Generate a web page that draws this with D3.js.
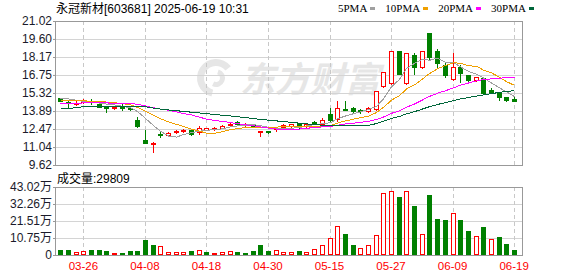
<!DOCTYPE html>
<html><head><meta charset="utf-8">
<script src="https://cdn.jsdelivr.net/npm/d3@7"></script>
<style>
html,body{margin:0;padding:0;background:#fff;}
svg{display:block;}
text{font-family:"Liberation Sans",Arial,"Noto Sans CJK SC",sans-serif;}
</style></head><body>
<svg id="c" width="578" height="276"></svg>
<script>
const title = "永冠新材[603681] 2025-06-19 10:31";
const dates = ["03-21","03-24","03-25","03-26","03-27","03-28","03-31","04-01","04-02","04-03",
"04-07","04-08","04-09","04-10","04-11","04-14","04-15","04-16","04-17","04-18",
"04-21","04-22","04-23","04-24","04-25","04-28","04-29","04-30","05-06","05-07",
"05-08","05-09","05-12","05-13","05-14","05-15","05-16","05-19","05-20","05-21",
"05-22","05-23","05-26","05-27","05-28","05-29","05-30","06-03","06-04","06-05",
"06-06","06-09","06-10","06-11","06-12","06-13","06-16","06-17","06-18","06-19"];
const opens = [14.89,14.62,14.47,14.62,14.68,14.45,14.20,14.10,14.20,14.15,
13.15,11.62,11.32,12.04,11.99,12.20,12.28,12.36,12.20,12.41,
12.44,12.54,12.83,13.04,12.76,12.80,12.20,12.30,12.44,12.65,
12.70,12.91,12.67,13.02,12.86,13.65,13.28,14.07,14.12,13.97,
13.86,14.02,15.91,16.10,18.63,16.10,18.34,17.36,20.05,18.65,
17.55,16.41,17.39,16.73,16.31,16.49,15.52,15.36,14.99,14.83];
const highs = [14.95,14.65,14.68,14.86,14.81,14.68,14.26,14.28,14.41,14.28,
13.40,12.36,11.45,12.28,12.20,12.36,12.49,12.46,12.67,12.57,
12.62,12.81,13.04,13.07,12.96,12.86,12.33,12.33,12.57,12.83,
12.88,12.96,12.94,13.12,13.33,14.17,14.70,14.65,14.25,14.04,
14.25,15.50,16.99,18.66,18.66,18.51,18.47,18.66,20.05,18.78,
17.81,18.47,17.55,16.76,16.60,16.57,15.70,15.36,14.99,15.04];
const lows = [14.66,14.20,14.36,14.55,14.47,14.20,13.83,14.05,13.99,13.99,
12.62,11.38,10.62,11.83,11.94,12.15,12.20,11.99,12.04,12.36,
12.36,12.51,12.72,12.85,12.70,12.65,11.91,12.18,12.30,12.60,
12.65,12.57,12.60,12.86,12.81,13.12,13.12,13.99,13.81,13.73,
13.81,13.96,15.83,16.05,16.80,16.05,16.83,17.30,17.99,17.41,
16.57,16.36,16.23,16.28,16.28,15.25,15.31,14.78,14.68,14.65];
const closes = [14.68,14.49,14.55,14.76,14.57,14.22,14.12,14.23,14.15,14.08,
12.67,11.40,11.38,11.97,12.12,12.28,12.41,12.10,12.54,12.51,
12.54,12.73,12.90,12.88,12.86,12.72,12.30,12.23,12.51,12.78,
12.83,12.62,12.86,12.97,13.17,13.22,14.17,13.99,13.86,13.90,
14.12,15.45,16.97,18.63,16.83,18.47,17.41,18.63,18.20,17.68,
16.76,17.39,16.94,16.36,16.57,15.31,15.36,15.04,14.78,14.70];
// volume in 手
const volumes = [31600,31600,16900,25300,31600,31600,25300,14800,12700,25300,
25300,94900,63300,56900,21100,21100,21100,25300,29500,21100,
14800,21100,25300,21100,14800,25300,63300,25300,29500,21100,
16900,25300,21100,35800,61200,105400,181400,132900,63300,42200,
61200,124400,390000,404900,367000,404900,310000,130700,379600,227800,
221400,263600,221400,151800,118100,177100,101200,113900,69600,29809];
// volume rises vs previous close (up = red)
const volUp = [false,false,true,true,false,false,false,true,false,false,
false,false,false,true,true,true,true,false,true,false,
true,true,true,false,false,false,false,false,true,true,
true,false,true,true,true,true,true,false,false,true,
true,true,true,true,false,true,false,true,false,false,
false,true,false,false,true,false,true,false,false,false];
const ma5 = [14.92,14.85,14.75,14.66,14.61,14.52,14.44,14.38,14.26,14.16,
13.85,13.31,12.74,12.30,11.91,11.83,12.03,12.18,12.29,12.37,
12.42,12.48,12.64,12.71,12.78,12.82,12.73,12.60,12.52,12.51,
12.53,12.59,12.72,12.81,12.89,12.97,13.28,13.50,13.68,13.83,
14.01,14.26,14.86,15.81,16.40,17.27,17.66,17.99,17.91,18.08,
17.74,17.73,17.39,17.03,16.80,16.51,16.11,15.73,15.41,15.04];
const ma10 = [14.70,14.70,14.69,14.69,14.68,14.65,14.60,14.55,14.48,14.39,
14.18,13.88,13.56,13.28,13.03,12.84,12.67,12.46,12.30,12.14,
12.13,12.26,12.41,12.50,12.58,12.62,12.61,12.62,12.62,12.65,
12.67,12.66,12.66,12.67,12.70,12.75,12.94,13.11,13.25,13.36,
13.49,13.77,14.18,14.75,15.11,15.64,15.96,16.43,16.86,17.24,
17.50,17.70,17.69,17.47,17.44,17.13,16.92,16.56,16.22,15.92];
const ma20 = [14.50,14.51,14.52,14.53,14.54,14.54,14.53,14.52,14.51,14.50,
14.42,14.30,14.15,14.05,13.95,13.82,13.70,13.58,13.40,13.26,
13.15,13.07,12.98,12.89,12.80,12.73,12.64,12.54,12.46,12.39,
12.40,12.46,12.53,12.58,12.64,12.68,12.77,12.87,12.93,13.00,
13.08,13.22,13.42,13.71,13.91,14.19,14.45,14.77,15.05,15.30,
15.50,15.73,15.94,16.11,16.28,16.38,16.44,16.49,16.54,16.58];
const ma30 = [14.12,14.12,14.14,14.25,14.27,14.27,14.27,14.27,14.27,14.27,
14.26,14.24,14.12,14.05,13.98,13.92,13.86,13.80,13.74,13.68,
13.62,13.56,13.50,13.44,13.38,13.30,13.23,13.17,13.11,13.06,
12.99,12.93,12.88,12.82,12.77,12.74,12.74,12.73,12.72,12.71,
12.76,12.90,13.08,13.31,13.46,13.67,13.84,14.05,14.24,14.41,
14.56,14.71,14.85,14.96,15.08,15.17,15.27,15.37,15.44,15.51];
const priceTicks = [21.02,19.60,18.17,16.75,15.32,13.89,12.47,11.04,9.62];
const volTicks = [0,107500,215100,322600,430200];
const volTickLabels = ["0","10.75万","21.51万","32.26万","43.02万"];
const xLabels = ["03-26","04-08","04-18","04-30","05-15","05-27","06-09","06-19"];
const maNames = ["5PMA","10PMA","20PMA","30PMA"];
const maColors = ["#a0a0a0","#f0a000","#ff00ff","#00663a"];
const maSeries = [ma5, ma10, ma20, ma30];

const L=55, R=522, T=21, MB=165, VT=187, VB=255;
const RED="#ff0000", GREEN="#008000", BORDER="#999", GRID="#d4d4d4";
const svg = d3.select("#c");

const x = d3.scaleBand().domain(dates).range([56.45, 517.95]).padding(0);
const cx = d => Math.round(x(d) + x.bandwidth()/2);
const y = d3.scaleLinear().domain([9.62, 21.02]).range([MB, T]);
const yv = d3.scaleLinear().domain([0, 430200]).range([VB, VT]);
const px = v => Math.round(v) + 0.5;

// watermark
const wm = svg.append("g").attr("fill","#e6e6e6");
wm.append("path").attr("transform","translate(216,78)")
  .attr("d", d3.arc()({innerRadius:12, outerRadius:19, startAngle:-2.9, endAngle:0.9}));
wm.append("path").attr("transform","translate(216,78)")
  .attr("d", d3.arc()({innerRadius:4, outerRadius:9, startAngle:0.3, endAngle:3.6}));
wm.append("text").attr("x",240).attr("y",92).attr("font-size",35).attr("font-weight","bold")
  .attr("font-style","italic").style("font-family","'Noto Sans CJK SC'").text("东方财富");

// horizontal grid
const grid = svg.append("g").attr("shape-rendering","crispEdges");
grid.selectAll(".hg").data(priceTicks.slice(1,-1)).join("line")
  .attr("x1",L).attr("x2",R).attr("y1",d=>px(y(d))).attr("y2",d=>px(y(d)))
  .attr("stroke",GRID);
grid.selectAll(".vhg").data(volTicks.slice(1,-1)).join("line").attr("class","vhg")
  .attr("x1",L).attr("x2",R).attr("y1",d=>px(yv(d))).attr("y2",d=>px(yv(d)))
  .attr("stroke",GRID);
// vertical dashed grid
[[T,MB],[VT,VB]].forEach(([a,b])=>{
  grid.append("g").selectAll("line").data(xLabels).join("line")
    .attr("x1",d=>cx(d)+0.5).attr("x2",d=>cx(d)+0.5).attr("y1",a).attr("y2",b)
    .attr("stroke","#c8c8c8").attr("stroke-dasharray","4,3");
});

// boxes
svg.append("rect").attr("x",L+0.5).attr("y",T+0.5).attr("width",R-L).attr("height",MB-T)
  .attr("fill","none").attr("stroke",BORDER).attr("shape-rendering","crispEdges");
svg.append("rect").attr("x",L+0.5).attr("y",VT+0.5).attr("width",R-L).attr("height",VB-VT)
  .attr("fill","none").attr("stroke",BORDER).attr("shape-rendering","crispEdges");

// axes
const ya = svg.append("g").attr("transform",`translate(${L},0)`)
  .call(d3.axisLeft(y).tickValues(priceTicks).tickFormat(d3.format(".2f")).tickSize(2).tickPadding(1));
const yva = svg.append("g").attr("transform",`translate(${L},0)`)
  .call(d3.axisLeft(yv).tickValues(volTicks).tickFormat((d,i)=>volTickLabels[i]).tickSize(2).tickPadding(1));
const xa = svg.append("g").attr("transform",`translate(0,${VB})`)
  .call(d3.axisBottom(x).tickValues(xLabels).tickSize(0).tickPadding(7));
[ya,yva,xa].forEach(g=>{
  g.select(".domain").attr("stroke",BORDER);
  g.selectAll(".tick line").attr("stroke",BORDER);
  g.selectAll("text").style("font-family","'Liberation Sans','Noto Sans CJK SC',sans-serif").attr("font-size",12).attr("fill","#1a1a2a");
});
xa.select(".domain").remove();
xa.selectAll("text").attr("fill",RED).attr("font-size",11.5);

// candles
const idx = d3.range(dates.length);
const cg = svg.append("g").attr("shape-rendering","crispEdges");
idx.forEach(i=>{
  const c = cx(dates[i]);
  const up = closes[i] >= opens[i];
  const col = up ? RED : GREEN;
  cg.append("line").attr("x1",c+0.5).attr("x2",c+0.5)
    .attr("y1",Math.round(y(highs[i]))).attr("y2",Math.round(y(lows[i]))+1).attr("stroke",col);
  const yt = Math.round(y(Math.max(opens[i],closes[i])));
  const yb = Math.round(y(Math.min(opens[i],closes[i])));
  if (up) {
    cg.append("rect").attr("x",c-2+0.5).attr("y",yt+0.5).attr("width",4).attr("height",Math.max(yb-yt,1))
      .attr("fill","#fff").attr("stroke",col);
  } else {
    cg.append("rect").attr("x",c-2).attr("y",yt).attr("width",5).attr("height",Math.max(yb-yt,1)+1)
      .attr("fill",col);
  }
});

// moving averages
const lg = svg.append("g");
maSeries.forEach((s,k)=>{
  lg.append("path").datum(s)
    .attr("d", d3.line().x((v,i)=>cx(dates[i])+0.5).y(v=>y(v)))
    .attr("fill","none").attr("stroke",maColors[k]).attr("stroke-width",1)
    .attr("shape-rendering","crispEdges");
});

// volume bars
const vg = svg.append("g").attr("shape-rendering","crispEdges");
idx.forEach(i=>{
  const c = cx(dates[i]);
  const top = Math.round(yv(volumes[i]));
  if (volUp[i]) {
    vg.append("rect").attr("x",c-2+0.5).attr("y",top+0.5).attr("width",4).attr("height",Math.max(VB-top-1,1))
      .attr("fill","#fff").attr("stroke",RED);
  } else {
    vg.append("rect").attr("x",c-2).attr("y",top).attr("width",5).attr("height",VB-top)
      .attr("fill",GREEN);
  }
});

// title & labels
svg.append("text").attr("x",56).attr("y",13).attr("font-size",12).attr("fill","#000").text(title);
svg.append("text").attr("x",57).attr("y",183).attr("font-size",12).attr("fill","#000")
  .text("成交量:" + volumes[volumes.length-1]);

// legend
let lx = 338;
maNames.forEach((n,k)=>{
  const t = svg.append("text").attr("x",lx).attr("y",12).attr("font-size",11)
    .style("font-family","'Liberation Serif',serif").attr("fill","#000").text(n);
  const w = t.node().getComputedTextLength();
  svg.append("rect").attr("x",Math.round(lx+w+3)).attr("y",7).attr("width",5).attr("height",3)
    .attr("fill",maColors[k]);
  lx = lx + w + 3 + 5 + 10;
});
</script>
</body></html>
